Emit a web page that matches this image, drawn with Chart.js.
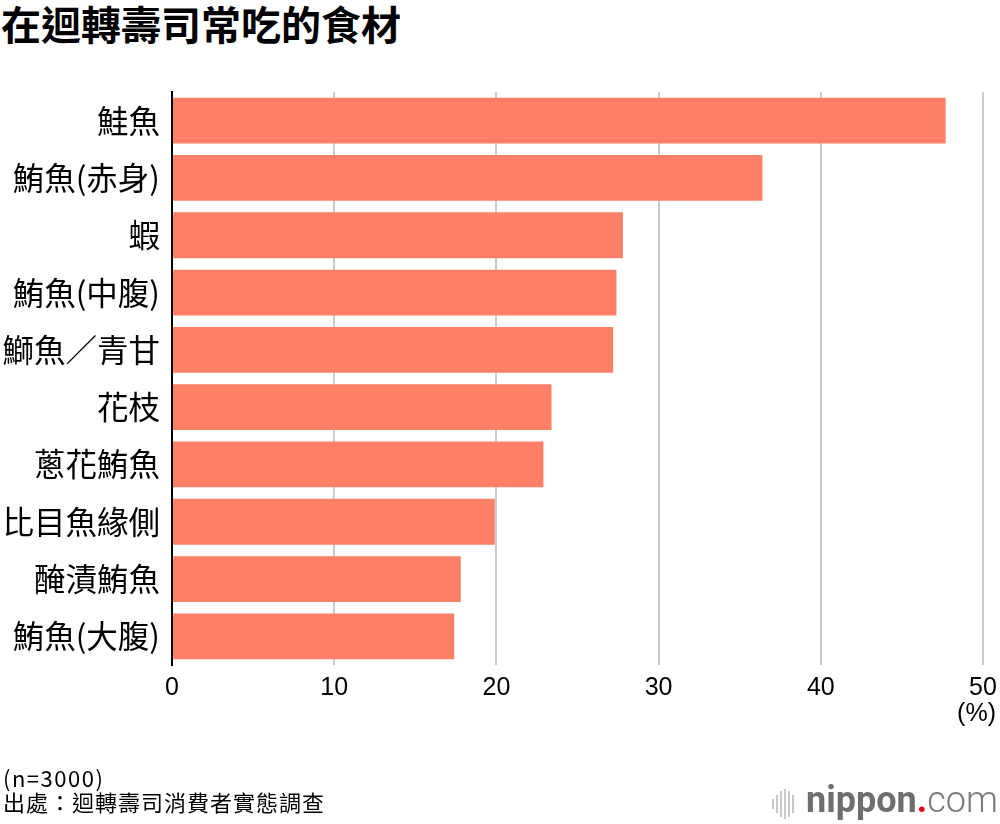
<!DOCTYPE html>
<html>
<head>
<meta charset="utf-8">
<script src="https://cdn.jsdelivr.net/npm/chart.js@4"></script>
<style>
  body { margin: 0; background: #fff; }
  #wrap { position: relative; width: 1000px; height: 824px; overflow: hidden; }
  #chartBox { position: absolute; left: 0; top: 0; width: 1000px; height: 824px; }
  .title { position: absolute; left: 1px; top: 3px; font: bold 40px/40px "Noto Sans CJK TC", sans-serif; color: #000; white-space: nowrap; }
  .note { position: absolute; left: 3px; font: 22px/24px "Noto Sans CJK TC", sans-serif; color: #000; white-space: nowrap; }
  .unit { position: absolute; right: 4px; top: 700px; font: 25px/25px "Liberation Sans", sans-serif; color: #000; }
  .logo { position: absolute; left: 772px; top: 780px; height: 40px; white-space: nowrap; }
  .logo .bars { position: absolute; left: 0; top: 0; width: 24px; height: 40px; }
  .logo .bars i { position: absolute; width: 2px; background: #c8c8c8; }
  .logo .txt { position: absolute; left: 34px; top: 0; font: 36px/40px "Roboto", sans-serif; color: #6e6e6e; }
  .logo b { font-weight: bold; }
  .logo .dot { color: #e60012; font-weight: bold; }
  .logo .com { font-weight: 300; color: #7a7a7a; }
</style>
</head>
<body>
<div id="wrap">
  <div class="title">在迴轉壽司常吃的食材</div>
  <div id="chartBox"><canvas id="myChart"></canvas></div>
  <div class="unit">(%)</div>
  <div class="note" style="top:765px;letter-spacing:1.5px">(n=3000)</div>
  <div class="note" style="top:789px;letter-spacing:1px">出處：迴轉壽司消費者實態調查</div>
  <div class="logo">
    <div class="bars">
      <i style="left:0;top:19px;height:10px"></i>
      <i style="left:4px;top:15px;height:18px"></i>
      <i style="left:8px;top:11px;height:26px"></i>
      <i style="left:12px;top:9px;height:30px"></i>
      <i style="left:16px;top:11px;height:26px"></i>
      <i style="left:20px;top:15px;height:18px"></i>
    </div>
    <div class="txt"><b>nippon</b><span class="dot">.</span><span class="com">com</span></div>
  </div>
</div>
<script>
// 資料
var categorias = ["鮭魚", "鮪魚(赤身)", "蝦", "鮪魚(中腹)", "鰤魚／青甘", "花枝", "蔥花鮪魚", "比目魚緣側", "醃漬鮪魚", "鮪魚(大腹)"];
var valores = [47.7, 36.4, 27.8, 27.4, 27.2, 23.4, 22.9, 19.9, 17.8, 17.4];
var ticksX = [0, 10, 20, 30, 40, 50];

var ctx = document.getElementById("myChart").getContext("2d");

// Gráfico de barras horizontales
var myChart = new Chart(ctx, {
  type: "bar",
  data: {
    labels: categorias,
    datasets: [
      {
        label: "%",
        data: valores,
        backgroundColor: "rgb(255, 128, 102)",
        categoryPercentage: 0.8,
        barPercentage: 1.0,
      },
    ],
  },
  options: {
    indexAxis: "y",
    responsive: true,
    maintainAspectRatio: false,
    animation: false,
    layout: { padding: { top: 92, right: 17, bottom: 0, left: 0 } },
    plugins: {
      legend: { display: false },
      tooltip: { enabled: false },
    },
    scales: {
      x: {
        min: 0,
        max: 50,
        afterBuildTicks: function (axis) {
          axis.ticks = ticksX.map(function (v) { return { value: v }; });
        },
        afterFit: function (axis) {
          axis.height = 159;
          axis.paddingLeft = 0;
          axis.paddingRight = 0;
        },
        grid: { color: "#cccccc", lineWidth: 2, drawTicks: false },
        border: { display: false },
        ticks: {
          padding: 8,
          color: "#000",
          font: { family: "Liberation Sans", size: 25 },
        },
      },
      y: {
        afterFit: function (axis) { axis.width = 172; },
        grid: { display: false },
        border: { display: true, color: "#000", width: 2 },
        ticks: {
          padding: 4,
          color: "#000",
          font: { family: "Noto Sans CJK TC", size: 31.5 },
        },
      },
    },
  },
});
</script>
</body>
</html>
